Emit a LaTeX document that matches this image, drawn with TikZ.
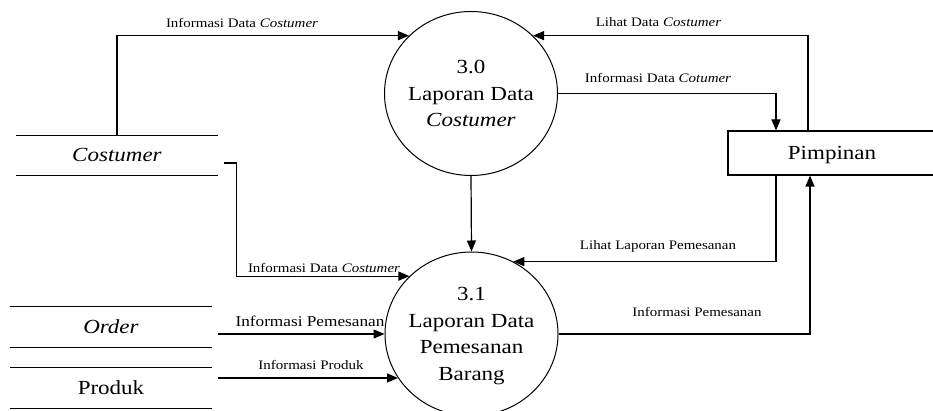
\documentclass[tikz,border=0pt]{standalone}
\usepackage{fontspec}
\setmainfont{Liberation Serif}[FakeStretch=1.15]
\usetikzlibrary{arrows.meta,shapes.geometric}

\tikzset{
  process/.style={draw, ellipse, line width=1pt, minimum width=173pt, minimum height=164pt, inner sep=0pt},
  proctext/.style={align=center, font=\fontsize{20}{26.5}\selectfont, text depth=0pt},
  store/.style={minimum width=202pt, minimum height=40pt, inner sep=0pt, font=\fontsize{20}{24}\selectfont, text height=13pt, text depth=0pt},
  entity/.style={store, draw, line width=1.2pt, minimum width=208pt, minimum height=44pt},
  flow/.style={line width=1.2pt, -{Triangle[length=11pt,width=9pt]}},
  lbl/.style={anchor=base, font=\fontsize{13}{15}\selectfont},
}

\begin{document}
\begin{tikzpicture}[x=1pt,y=1pt]
  \useasboundingbox (0,0) rectangle (933,411);
  % Draw processes
  \node[process] (p30) at (471,317.5) {};
  \node[proctext] (t30) at (p30) {3.0\\Laporan Data\\\textit{Costumer}};
  \node[process] (p31) at (471.5,77) {};
  \node[proctext] (t31) at (p31) {3.1\\Laporan Data\\Pemesanan\\Barang};
  % Draw data stores
  \node[store] (cost) at (117,255.5) {\textit{Costumer}};
  \node[store] (ord) at (111,84) {\textit{Order}};
  \node[store] (prod) at (111,23) {Produk};
  \draw[line width=1.2pt] (cost.north west) -- (cost.north east) (cost.south west) -- (cost.south east);
  \draw[line width=1.2pt] (ord.north west) -- (ord.north east) (ord.south west) -- (ord.south east);
  \draw[line width=1.2pt] (prod.north west) -- (prod.north east) (prod.south west) -- (prod.south east);
  % Draw external entity
  \node[entity] (pim) at (832,258) {Pimpinan};
  % Draw flows
  \draw[flow] (cost.north) |- (p30.137);
  \draw[flow] ([xshift=-24pt]pim.north) |- (p30.43);
  \draw[flow] (p30.east) -| ([xshift=-56pt]pim.north);
  \draw[flow] (p30.south) -- (p31.north);
  \draw[flow] ([shift={(6pt,-7.5pt)}]cost.east) -- ++(12pt,0) |- (p31.137);
  \draw[flow] ([xshift=-56pt]pim.south) |- (p31.60);
  \draw[flow] (p31.east) -| ([xshift=-22pt]pim.south);
  \draw[flow] ([shift={(6pt,-7pt)}]ord.east) -- (p31.west);
  \draw[flow] ([shift={(6pt,10pt)}]prod.east) coordinate (prodout) -- (prodout -| p31.211);
  % Flow labels
  \node[lbl] (l1) at (242,383) {Informasi Data \textit{Costumer}};
  \node[lbl] (l2) at (658.5,384) {Lihat Data \textit{Costumer}};
  \node[lbl] (l3) at (658,328) {Informasi Data \textit{Cotumer}};
  \node[lbl] (l4) at (324,138) {Informasi Data \textit{Costumer}};
  \node[lbl] (l5) at (658,161) {Lihat Laporan Pemesanan};
  \node[lbl] (l6) at (697,94) {Informasi Pemesanan};
  \node[lbl, font=\fontsize{15}{17}\selectfont] (l7) at (310,84) {Informasi Pemesanan};
  \node[lbl] (l8) at (311,41) {Informasi Produk};
\end{tikzpicture}
\end{document}
